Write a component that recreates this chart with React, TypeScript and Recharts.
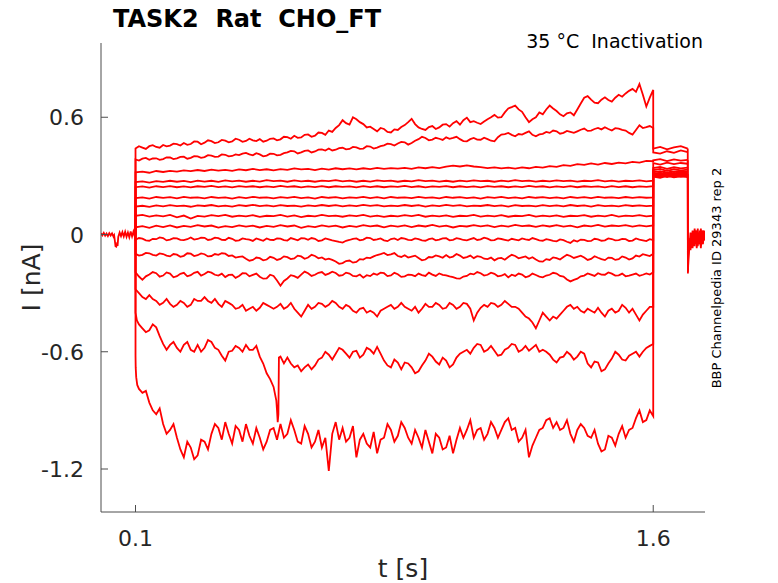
import React from "react";
import { LineChart, Line, XAxis, YAxis } from "recharts";

const RED = "#ff0000";
const INK = "#262626";
const AXIS = "#4d4d4d";
const FONT = "DejaVu Sans, sans-serif";

// holding level before the step
const T_PRE = [
  0, 0.004, 0.008, 0.012, 0.016, 0.02, 0.024, 0.028, 0.032, 0.036,
  0.038, 0.04, 0.042, 0.044, 0.046, 0.048, 0.05, 0.054, 0.058, 0.062,
  0.066, 0.07, 0.074, 0.078, 0.082, 0.086, 0.09, 0.094, 0.098, 0.1,
];
const I_PRE = [
  0.006, -0.004, 0.008, -0.006, 0.005, -0.008, 0.007, -0.005, 0.006, -0.01,
  -0.004, -0.03, -0.06, -0.062, -0.05, -0.058, -0.012, 0.01, -0.008, 0.012,
  -0.01, 0.014, -0.012, 0.01, -0.014, 0.016, -0.01, 0.015, -0.012, 0.0,
];

// step samples (s)
const T_STEP = [
  0.1, 0.12, 0.14, 0.16, 0.18, 0.2, 0.22, 0.24, 0.26, 0.28,
  0.3, 0.32, 0.34, 0.36, 0.38, 0.4, 0.42, 0.44, 0.46, 0.48,
  0.5, 0.52, 0.54, 0.56, 0.58, 0.6, 0.62, 0.64, 0.66, 0.68,
  0.7, 0.72, 0.74, 0.76, 0.78, 0.8, 0.82, 0.84, 0.86, 0.88,
  0.9, 0.92, 0.94, 0.96, 0.98, 1.0, 1.02, 1.04, 1.06, 1.08,
  1.1, 1.12, 1.14, 1.16, 1.18, 1.2, 1.22, 1.24, 1.26, 1.28,
  1.3, 1.32, 1.34, 1.36, 1.38, 1.4, 1.42, 1.44, 1.46, 1.48,
  1.5, 1.52, 1.54, 1.56, 1.58, 1.6,
];
// in-between samples used by the noisier sweeps
const T_MID = [
  0.11, 0.13, 0.15, 0.17, 0.19, 0.21, 0.23, 0.25, 0.27, 0.29,
  0.31, 0.33, 0.35, 0.37, 0.39, 0.41, 0.43, 0.45, 0.47, 0.49,
  0.51, 0.53, 0.55, 0.57, 0.59, 0.61, 0.63, 0.65, 0.67, 0.69,
  0.71, 0.73, 0.75, 0.77, 0.79, 0.81, 0.83, 0.85, 0.87, 0.89,
  0.91, 0.93, 0.95, 0.97, 0.99, 1.01, 1.03, 1.05, 1.07, 1.09,
  1.11, 1.13, 1.15, 1.17, 1.19, 1.21, 1.23, 1.25, 1.27, 1.29,
  1.31, 1.33, 1.35, 1.37, 1.39, 1.41, 1.43, 1.45, 1.47, 1.49,
  1.51, 1.53, 1.55, 1.57, 1.59,
];

const I1 = [
  0.44, 0.445, 0.452, 0.448, 0.458, 0.455, 0.462, 0.468, 0.463, 0.475,
  0.47, 0.478, 0.472, 0.48, 0.476, 0.485, 0.479, 0.482, 0.488, 0.48,
  0.492, 0.487, 0.498, 0.505, 0.497, 0.512, 0.506, 0.52, 0.532, 0.545,
  0.585, 0.562, 0.59, 0.565, 0.552, 0.528, 0.54, 0.522, 0.535, 0.56,
  0.592, 0.548, 0.535, 0.555, 0.548, 0.565, 0.57, 0.562, 0.598, 0.58,
  0.565, 0.59, 0.612, 0.6, 0.645, 0.66, 0.628, 0.575, 0.6, 0.615,
  0.66, 0.632, 0.605, 0.625, 0.64, 0.7, 0.69, 0.672, 0.702, 0.68,
  0.715, 0.722, 0.745, 0.77, 0.655, 0.74,
];
const M1 = [
  0.452, 0.438, 0.457, 0.444, 0.451, 0.465, 0.455, 0.459, 0.476, 0.462,
  0.482, 0.468, 0.484, 0.472, 0.49, 0.474, 0.49, 0.478, 0.475, 0.49,
  0.482, 0.5, 0.49, 0.495, 0.51, 0.5, 0.522, 0.51, 0.525, 0.56,
  0.57, 0.6, 0.575, 0.548, 0.54, 0.545, 0.525, 0.538, 0.55, 0.575,
  0.565, 0.54, 0.55, 0.54, 0.562, 0.552, 0.58, 0.585, 0.575, 0.572,
  0.578, 0.6, 0.598, 0.625, 0.652, 0.64, 0.6, 0.59, 0.625, 0.64,
  0.645, 0.615, 0.62, 0.61, 0.67, 0.708, 0.675, 0.69, 0.688, 0.7,
  0.705, 0.735, 0.73, 0.715, 0.7,
];
const I2 = [
  0.384, 0.388, 0.382, 0.39, 0.386, 0.394, 0.39, 0.398, 0.392, 0.4,
  0.396, 0.404, 0.399, 0.408, 0.402, 0.406, 0.418, 0.405, 0.41, 0.404,
  0.413, 0.408, 0.42, 0.426, 0.42, 0.43, 0.425, 0.436, 0.44, 0.434,
  0.444, 0.438, 0.446, 0.44, 0.45, 0.445, 0.456, 0.462, 0.466, 0.472,
  0.468, 0.488, 0.494, 0.486, 0.49, 0.497, 0.494, 0.488, 0.477, 0.494,
  0.485, 0.488, 0.477, 0.511, 0.52, 0.503, 0.511, 0.528, 0.503, 0.515,
  0.52, 0.528, 0.52, 0.525, 0.528, 0.542, 0.532, 0.545, 0.549, 0.532,
  0.542, 0.532, 0.511, 0.559, 0.549, 0.545,
];
const M2 = [
  0.378, 0.392, 0.389, 0.382, 0.395, 0.386, 0.397, 0.388, 0.401, 0.392,
  0.406, 0.397, 0.41, 0.4, 0.41, 0.414, 0.41, 0.416, 0.4, 0.414,
  0.405, 0.416, 0.428, 0.415, 0.428, 0.42, 0.434, 0.43, 0.43, 0.442,
  0.436, 0.448, 0.438, 0.452, 0.44, 0.452, 0.465, 0.455, 0.474, 0.46,
  0.48, 0.5, 0.482, 0.495, 0.484, 0.49, 0.5, 0.478, 0.488, 0.486,
  0.495, 0.48, 0.498, 0.514, 0.51, 0.514, 0.52, 0.51, 0.512, 0.525,
  0.532, 0.516, 0.53, 0.52, 0.536, 0.53, 0.54, 0.538, 0.54, 0.544,
  0.535, 0.52, 0.535, 0.545, 0.555,
];
const I3 = [
  0.318, 0.322, 0.316, 0.325, 0.32, 0.326, 0.322, 0.328, 0.324, 0.33,
  0.325, 0.332, 0.327, 0.331, 0.326, 0.333, 0.329, 0.336, 0.33, 0.334,
  0.328, 0.335, 0.331, 0.338, 0.333, 0.336, 0.33, 0.337, 0.332, 0.339,
  0.334, 0.338, 0.333, 0.339, 0.335, 0.341, 0.336, 0.34, 0.337, 0.341,
  0.336, 0.343, 0.339, 0.345, 0.34, 0.347, 0.352, 0.348, 0.354, 0.348,
  0.345, 0.34, 0.344, 0.338, 0.342, 0.337, 0.343, 0.339, 0.346, 0.342,
  0.35, 0.346, 0.355, 0.351, 0.36, 0.356, 0.364, 0.358, 0.366, 0.361,
  0.368, 0.364, 0.372, 0.368, 0.377, 0.375,
];
const I4 = [
  0.268, 0.272, 0.266, 0.273, 0.269, 0.275, 0.27, 0.274, 0.268, 0.276,
  0.271, 0.275, 0.269, 0.277, 0.272, 0.276, 0.27, 0.275, 0.271, 0.278,
  0.273, 0.276, 0.27, 0.277, 0.272, 0.275, 0.27, 0.276, 0.273, 0.278,
  0.272, 0.276, 0.27, 0.275, 0.271, 0.277, 0.273, 0.276, 0.27, 0.275,
  0.272, 0.278, 0.273, 0.276, 0.271, 0.275, 0.27, 0.276, 0.272, 0.277,
  0.273, 0.275, 0.27, 0.276, 0.272, 0.278, 0.273, 0.276, 0.271, 0.275,
  0.272, 0.277, 0.273, 0.276, 0.271, 0.275, 0.273, 0.278, 0.272, 0.276,
  0.271, 0.275, 0.273, 0.277, 0.272, 0.275,
];
const I5 = [
  0.242, 0.246, 0.24, 0.247, 0.243, 0.248, 0.242, 0.246, 0.241, 0.247,
  0.244, 0.249, 0.243, 0.246, 0.241, 0.248, 0.244, 0.247, 0.242, 0.246,
  0.243, 0.249, 0.244, 0.247, 0.241, 0.246, 0.243, 0.248, 0.242, 0.247,
  0.244, 0.246, 0.241, 0.248, 0.243, 0.247, 0.242, 0.246, 0.244, 0.249,
  0.243, 0.247, 0.241, 0.246, 0.244, 0.248, 0.242, 0.247, 0.243, 0.246,
  0.241, 0.248, 0.244, 0.247, 0.242, 0.246, 0.243, 0.249, 0.244, 0.247,
  0.241, 0.246, 0.243, 0.248, 0.242, 0.247, 0.244, 0.246, 0.241, 0.248,
  0.243, 0.247, 0.242, 0.246, 0.244, 0.247,
];
const I6 = [
  0.186, 0.19, 0.184, 0.192, 0.187, 0.191, 0.185, 0.193, 0.188, 0.19,
  0.185, 0.192, 0.187, 0.19, 0.184, 0.191, 0.186, 0.193, 0.188, 0.19,
  0.185, 0.191, 0.187, 0.193, 0.186, 0.19, 0.184, 0.192, 0.188, 0.191,
  0.185, 0.19, 0.187, 0.193, 0.186, 0.191, 0.185, 0.192, 0.188, 0.19,
  0.186, 0.193, 0.187, 0.19, 0.185, 0.192, 0.188, 0.191, 0.186, 0.19,
  0.184, 0.191, 0.187, 0.193, 0.186, 0.19, 0.185, 0.192, 0.188, 0.191,
  0.186, 0.19, 0.185, 0.192, 0.187, 0.191, 0.186, 0.193, 0.188, 0.19,
  0.186, 0.192, 0.187, 0.191, 0.188, 0.19,
];
const I7 = [
  0.143, 0.147, 0.141, 0.149, 0.144, 0.15, 0.145, 0.148, 0.142, 0.149,
  0.146, 0.151, 0.144, 0.148, 0.143, 0.15, 0.146, 0.152, 0.145, 0.149,
  0.144, 0.15, 0.146, 0.148, 0.143, 0.149, 0.145, 0.151, 0.146, 0.15,
  0.144, 0.149, 0.145, 0.152, 0.147, 0.15, 0.144, 0.148, 0.145, 0.151,
  0.146, 0.15, 0.143, 0.149, 0.145, 0.152, 0.147, 0.15, 0.144, 0.148,
  0.146, 0.151, 0.145, 0.149, 0.143, 0.15, 0.146, 0.148, 0.144, 0.15,
  0.145, 0.149, 0.144, 0.151, 0.146, 0.149, 0.143, 0.15, 0.145, 0.148,
  0.144, 0.15, 0.146, 0.149, 0.145, 0.148,
];
const I8 = [
  0.096, 0.1, 0.092, 0.098, 0.093, 0.1, 0.088, 0.097, 0.082, 0.095,
  0.092, 0.099, 0.094, 0.1, 0.091, 0.097, 0.093, 0.099, 0.09, 0.096,
  0.094, 0.1, 0.092, 0.098, 0.089, 0.096, 0.093, 0.1, 0.094, 0.097,
  0.091, 0.098, 0.094, 0.1, 0.092, 0.097, 0.09, 0.096, 0.093, 0.099,
  0.094, 0.1, 0.091, 0.097, 0.093, 0.098, 0.09, 0.096, 0.094, 0.1,
  0.092, 0.097, 0.093, 0.099, 0.091, 0.096, 0.094, 0.1, 0.092, 0.097,
  0.093, 0.098, 0.09, 0.096, 0.094, 0.099, 0.091, 0.097, 0.093, 0.1,
  0.092, 0.097, 0.094, 0.099, 0.093, 0.096,
];
const I9 = [
  0.037, 0.043, 0.034, 0.045, 0.038, 0.047, 0.036, 0.044, 0.039, 0.048,
  0.041, 0.046, 0.035, 0.043, 0.038, 0.047, 0.04, 0.045, 0.036, 0.044,
  0.039, 0.048, 0.041, 0.046, 0.034, 0.043, 0.038, 0.047, 0.04, 0.045,
  0.036, 0.044, 0.039, 0.048, 0.042, 0.046, 0.037, 0.045, 0.04, 0.047,
  0.038, 0.046, 0.041, 0.049, 0.04, 0.045, 0.036, 0.044, 0.041, 0.048,
  0.042, 0.047, 0.038, 0.045, 0.04, 0.049, 0.043, 0.046, 0.039, 0.047,
  0.041, 0.048, 0.04, 0.045, 0.037, 0.046, 0.042, 0.049, 0.04, 0.046,
  0.043, 0.048, 0.04, 0.047, 0.042, 0.046,
];
const I10 = [
  -0.027, -0.021, -0.032, -0.024, -0.018, -0.026, -0.02, -0.029, -0.015, -0.023,
  -0.017, -0.025, -0.019, -0.028, -0.022, -0.03, -0.024, -0.033, -0.026, -0.02,
  -0.028, -0.021, -0.031, -0.024, -0.019, -0.027, -0.022, -0.03, -0.025, -0.034,
  -0.041, -0.028, -0.02, -0.026, -0.018, -0.025, -0.03, -0.023, -0.028, -0.021,
  -0.029, -0.024, -0.032, -0.02, -0.026, -0.019, -0.027, -0.022, -0.03, -0.018,
  -0.025, -0.021, -0.029, -0.023, -0.031, -0.026, -0.02, -0.028, -0.024, -0.032,
  -0.027, -0.035, -0.029, -0.043, -0.036, -0.028, -0.033, -0.025, -0.03, -0.023,
  -0.029, -0.024, -0.031, -0.026, -0.034, -0.029,
];
const M10 = [
  -0.018, -0.03, -0.022, -0.015, -0.03, -0.019, -0.027, -0.024, -0.026, -0.016,
  -0.028, -0.016, -0.027, -0.017, -0.032, -0.02, -0.026, -0.02, -0.032, -0.027,
  -0.02, -0.029, -0.018, -0.03, -0.02, -0.018, -0.033, -0.02, -0.03, -0.038,
  -0.032, -0.022, -0.03, -0.016, -0.028, -0.02, -0.034, -0.02, -0.018, -0.027,
  -0.02, -0.03, -0.024, -0.03, -0.02, -0.03, -0.019, -0.028, -0.024, -0.028,
  -0.016, -0.03, -0.02, -0.027, -0.022, -0.03, -0.025, -0.018, -0.03, -0.024,
  -0.033, -0.025, -0.037, -0.03, -0.026, -0.034, -0.022, -0.032, -0.02, -0.03,
  -0.022, -0.033, -0.02, -0.03, -0.024,
];
const I11 = [
  -0.099, -0.104, -0.096, -0.108, -0.1, -0.112, -0.103, -0.109, -0.098, -0.106,
  -0.101, -0.11, -0.104, -0.098, -0.107, -0.115, -0.124, -0.13, -0.121, -0.128,
  -0.119, -0.125, -0.116, -0.122, -0.112, -0.118, -0.11, -0.117, -0.124, -0.138,
  -0.146, -0.133, -0.14, -0.128, -0.121, -0.105, -0.094, -0.102, -0.11, -0.106,
  -0.113, -0.12, -0.128, -0.117, -0.112, -0.105, -0.113, -0.108, -0.116, -0.121,
  -0.114, -0.126, -0.132, -0.12, -0.115, -0.11, -0.117, -0.124, -0.128, -0.139,
  -0.13, -0.121, -0.115, -0.11, -0.114, -0.118, -0.125, -0.119, -0.131, -0.12,
  -0.126, -0.118, -0.122, -0.113, -0.105, -0.098,
];
const M11 = [
  -0.108, -0.094, -0.104, -0.097, -0.108, -0.1, -0.114, -0.096, -0.11, -0.097,
  -0.112, -0.1, -0.096, -0.11, -0.118, -0.112, -0.134, -0.118, -0.132, -0.114,
  -0.13, -0.112, -0.126, -0.108, -0.124, -0.104, -0.122, -0.128, -0.13, -0.15,
  -0.136, -0.144, -0.126, -0.118, -0.112, -0.1, -0.105, -0.095, -0.115, -0.118,
  -0.108, -0.132, -0.115, -0.107, -0.119, -0.118, -0.1, -0.12, -0.108, -0.111,
  -0.124, -0.118, -0.122, -0.129, -0.104, -0.122, -0.112, -0.116, -0.138, -0.126,
  -0.117, -0.128, -0.104, -0.12, -0.108, -0.13, -0.111, -0.126, -0.118, -0.13,
  -0.112, -0.128, -0.108, -0.101, -0.11,
];
const I12 = [
  -0.193, -0.232, -0.205, -0.198, -0.21, -0.2, -0.213, -0.196, -0.208, -0.191,
  -0.202, -0.195, -0.21, -0.218, -0.205, -0.212, -0.199, -0.207, -0.216, -0.224,
  -0.212, -0.262, -0.225, -0.213, -0.205, -0.198, -0.206, -0.192, -0.2, -0.197,
  -0.208, -0.2, -0.214, -0.221, -0.213, -0.206, -0.198, -0.209, -0.203, -0.214,
  -0.207, -0.2, -0.212, -0.205, -0.199, -0.209, -0.218, -0.226, -0.212, -0.204,
  -0.198, -0.206, -0.201, -0.211, -0.219, -0.212, -0.205, -0.213, -0.207, -0.219,
  -0.206, -0.2, -0.215, -0.24, -0.226, -0.21, -0.205, -0.198, -0.206, -0.2,
  -0.209, -0.214, -0.205, -0.211, -0.199, -0.193,
];
const M12 = [
  -0.215, -0.214, -0.192, -0.216, -0.194, -0.219, -0.201, -0.214, -0.196, -0.21,
  -0.19, -0.206, -0.2, -0.207, -0.222, -0.198, -0.214, -0.2, -0.226, -0.206,
  -0.235, -0.238, -0.208, -0.222, -0.19, -0.212, -0.196, -0.207, -0.19, -0.211,
  -0.195, -0.212, -0.205, -0.208, -0.2, -0.195, -0.213, -0.196, -0.217, -0.205,
  -0.213, -0.208, -0.195, -0.212, -0.206, -0.214, -0.224, -0.215, -0.2, -0.192,
  -0.21, -0.195, -0.214, -0.203, -0.206, -0.2, -0.219, -0.2, -0.215, -0.21,
  -0.196, -0.212, -0.23, -0.232, -0.214, -0.199, -0.212, -0.205, -0.194, -0.21,
  -0.2, -0.21, -0.2, -0.206, -0.205,
];
const I13 = [
  -0.28, -0.32, -0.31, -0.34, -0.35, -0.355, -0.36, -0.35, -0.36, -0.34,
  -0.32, -0.35, -0.355, -0.34, -0.36, -0.375, -0.39, -0.37, -0.375, -0.36,
  -0.38, -0.355, -0.37, -0.38, -0.42, -0.36, -0.37, -0.355, -0.36, -0.35,
  -0.38, -0.37, -0.4, -0.375, -0.39, -0.42, -0.38, -0.36, -0.37, -0.37,
  -0.39, -0.4, -0.355, -0.37, -0.36, -0.375, -0.36, -0.37, -0.355, -0.44,
  -0.375, -0.37, -0.355, -0.36, -0.355, -0.37, -0.4, -0.43, -0.48, -0.4,
  -0.44, -0.43, -0.39, -0.36, -0.37, -0.4, -0.39, -0.375, -0.42, -0.38,
  -0.39, -0.375, -0.38, -0.44, -0.39, -0.37,
];
const M13 = [
  -0.3, -0.33, -0.33, -0.36, -0.33, -0.37, -0.34, -0.37, -0.33, -0.34,
  -0.34, -0.33, -0.37, -0.35, -0.38, -0.36, -0.38, -0.39, -0.35, -0.37,
  -0.37, -0.38, -0.35, -0.4, -0.39, -0.38, -0.35, -0.37, -0.34, -0.37,
  -0.36, -0.39, -0.38, -0.4, -0.4, -0.39, -0.37, -0.38, -0.35, -0.38,
  -0.37, -0.38, -0.37, -0.35, -0.38, -0.35, -0.38, -0.35, -0.38, -0.4,
  -0.36, -0.35, -0.37, -0.34, -0.37, -0.38, -0.42, -0.45, -0.44, -0.42,
  -0.42, -0.41, -0.37, -0.38, -0.39, -0.38, -0.4, -0.4, -0.39, -0.4,
  -0.36, -0.4, -0.41, -0.41, -0.37,
];
const I14 = [
  -0.4, -0.48, -0.49, -0.475, -0.56, -0.565, -0.58, -0.565, -0.59, -0.565,
  -0.58, -0.55, -0.59, -0.645, -0.595, -0.58, -0.565, -0.59, -0.625, -0.71,
  -0.78, -0.625, -0.63, -0.68, -0.7, -0.665, -0.67, -0.63, -0.615, -0.61,
  -0.59, -0.63, -0.595, -0.615, -0.59, -0.575, -0.645, -0.68, -0.655, -0.655,
  -0.68, -0.7, -0.645, -0.625, -0.665, -0.645, -0.665, -0.61, -0.59, -0.58,
  -0.565, -0.59, -0.595, -0.615, -0.58, -0.565, -0.59, -0.595, -0.565, -0.59,
  -0.615, -0.655, -0.625, -0.615, -0.625, -0.61, -0.68, -0.655, -0.69, -0.635,
  -0.615, -0.645, -0.61, -0.625, -0.58, -0.56,
];
const M14 = [
  -0.46, -0.5, -0.46, -0.52, -0.59, -0.55, -0.6, -0.55, -0.6, -0.6,
  -0.54, -0.58, -0.62, -0.6, -0.57, -0.6, -0.59, -0.57, -0.66, -0.74,
  -0.9, -0.66, -0.66, -0.67, -0.68, -0.69, -0.64, -0.6, -0.64, -0.58,
  -0.61, -0.6, -0.63, -0.58, -0.61, -0.61, -0.67, -0.64, -0.69, -0.66,
  -0.71, -0.67, -0.61, -0.65, -0.63, -0.68, -0.63, -0.6, -0.61, -0.56,
  -0.6, -0.57, -0.62, -0.59, -0.56, -0.6, -0.57, -0.58, -0.6, -0.6,
  -0.64, -0.63, -0.6, -0.64, -0.6, -0.66, -0.65, -0.7, -0.66, -0.6,
  -0.64, -0.62, -0.6, -0.6, -0.57,
];
const I15 = [
  -0.62, -0.81, -0.86, -0.92, -0.97, -1.0, -1.04, -1.14, -1.09, -1.13,
  -1.06, -1.02, -0.99, -0.96, -1.07, -1.0, -0.97, -1.07, -1.04, -1.06,
  -0.99, -0.97, -1.02, -1.0, -1.07, -1.02, -1.06, -1.09, -1.21, -0.96,
  -0.99, -1.04, -1.14, -1.02, -1.09, -1.12, -1.04, -1.0, -1.03, -0.99,
  -1.07, -1.04, -1.0, -1.12, -1.04, -1.09, -1.12, -0.99, -1.0, -1.04,
  -0.99, -1.02, -0.99, -1.0, -0.94, -0.99, -1.04, -1.14, -1.04, -0.99,
  -0.94, -0.96, -0.99, -1.02, -1.0, -0.99, -1.04, -1.07, -1.1, -1.04,
  -1.02, -1.04, -0.99, -0.9, -0.95, -0.93,
];
const M15 = [
  -0.79, -0.8, -0.9, -0.89, -1.02, -0.97, -1.1, -1.06, -1.15, -1.05,
  -1.1, -0.97, -1.05, -1.02, -0.98, -1.06, -1.03, -0.99, -1.1, -1.0,
  -1.05, -1.04, -0.95, -1.06, -0.98, -1.09, -1.0, -1.04, -1.02, -1.05,
  -1.06, -0.98, -1.05, -1.07, -1.01, -1.05, -0.97, -1.06, -0.96, -1.04,
  -1.0, -1.09, -1.06, -1.02, -1.1, -1.03, -1.05, -1.04, -0.95, -1.0,
  -1.05, -0.96, -1.04, -0.96, -1.0, -1.06, -1.0, -1.08, -1.0, -0.95,
  -0.99, -1.0, -0.95, -1.06, -0.97, -1.03, -1.0, -1.11, -1.03, -1.08,
  -0.98, -1.0, -0.94, -0.96, -0.9,
];

// off-grid samples: fast onset and the brief dip of the two largest inward sweeps
const EXTRA14 = [
  [0.104, -0.44],
  [0.508, -0.85], [0.512, -0.96], [0.514, -0.92], [0.5155, -0.63],
];
const EXTRA15 = [
  [0.1005, -0.68], [0.102, -0.73], [0.105, -0.77], [0.115, -0.8],
];

// tail after the step
const T_TAIL = [1.6, 1.62, 1.64, 1.66, 1.68, 1.7];
const TAILS = [
  [0.44, 0.448, 0.436, 0.446, 0.452, 0.44],
  [0.42, 0.414, 0.426, 0.418, 0.43, 0.422],
  [0.38, 0.386, 0.376, 0.384, 0.378, 0.382],
  [0.365, 0.358, 0.368, 0.36, 0.366, 0.362],
  [0.34, 0.346, 0.336, 0.344, 0.338, 0.342],
  [0.33, 0.336, 0.326, 0.334, 0.328, 0.332],
  [0.325, 0.318, 0.328, 0.32, 0.326, 0.322],
  [0.318, 0.324, 0.314, 0.322, 0.316, 0.32],
  [0.312, 0.306, 0.316, 0.308, 0.314, 0.31],
  [0.308, 0.314, 0.304, 0.312, 0.306, 0.31],
  [0.305, 0.299, 0.309, 0.301, 0.307, 0.303],
  [0.302, 0.308, 0.298, 0.306, 0.3, 0.304],
  [0.3, 0.294, 0.304, 0.296, 0.302, 0.298],
  [0.298, 0.304, 0.294, 0.302, 0.296, 0.3],
  [0.296, 0.29, 0.3, 0.292, 0.298, 0.294],
];

// return to holding
const T_POST = [
  1.7, 1.7005, 1.702, 1.705, 1.708, 1.711, 1.714, 1.717, 1.72, 1.723,
  1.726, 1.729, 1.732, 1.735, 1.738, 1.741, 1.744, 1.747, 1.75,
];
const POST = [
  [0.44, -0.19, -0.11, -0.06, 0.01, -0.05, 0.02, -0.04, 0.03, -0.03, 0.02, -0.06, 0.01, -0.04, 0.03, -0.05, 0.02, -0.03, 0.0],
  [0.38, -0.16, -0.08, -0.02, -0.07, 0.0, -0.06, 0.01, -0.05, 0.02, -0.07, 0.0, -0.05, 0.02, -0.06, 0.01, -0.04, 0.02, -0.02],
  [0.31, -0.2, -0.12, -0.04, -0.08, -0.01, -0.07, 0.0, -0.06, 0.01, -0.04, 0.03, -0.05, 0.0, -0.07, 0.02, -0.05, 0.01, -0.03],
];

const X_TICKS = [0.1, 1.6];
const Y_TICKS = [-1.2, -0.6, 0, 0.6];

const STEPS = [I1, I2, I3, I4, I5, I6, I7, I8, I9, I10, I11, I12, I13, I14, I15];
const MIDS: (number[] | null)[] = [M1, M2, null, null, null, null, null, null, null, M10, M11, M12, M13, M14, M15];
const EXTRAS: number[][][] = [[], [], [], [], [], [], [], [], [], [], [], [], [], EXTRA14, EXTRA15];

function sweep(k: number) {
  const pts = T_STEP.map((t, i) => ({ t, v: STEPS[k][i] }));
  const mid = MIDS[k];
  if (mid) T_MID.forEach((t, i) => pts.push({ t, v: mid[i] }));
  EXTRAS[k].forEach(([t, v]) => pts.push({ t, v }));
  pts.sort((a, b) => a.t - b.t);
  return [{ t: 0.1, v: 0 }, ...pts, ...T_TAIL.map((t, i) => ({ t, v: TAILS[k][i] }))];
}

const sweeps = STEPS.map((_, k) => sweep(k));
const pre = T_PRE.map((t, i) => ({ t, v: I_PRE[i] }));
const post = POST.map((row) => T_POST.map((t, i) => ({ t, v: row[i] })));

const XTick = (props: any) => {
  const { x, y, payload } = props;
  return (
    <g>
      <line x1={x} x2={x} y1={y} y2={y - 7} stroke={AXIS} />
      <text x={x} y={y + 34} textAnchor="middle" fontSize={22} fill={INK} fontFamily={FONT}>
        {payload.value}
      </text>
    </g>
  );
};

const YTick = (props: any) => {
  const { x, y, payload } = props;
  return (
    <g>
      <line x1={x} x2={x + 7} y1={y} y2={y} stroke={AXIS} />
      <text x={x - 17} y={y + 8} textAnchor="end" fontSize={22} fill={INK} fontFamily={FONT}>
        {String(payload.value)}
      </text>
    </g>
  );
};

export default function App() {
  const line = (data: any[], key: string) => (
    <Line
      key={key}
      data={data}
      dataKey="v"
      type="linear"
      stroke={RED}
      strokeWidth={1.8}
      dot={false}
      activeDot={false}
      isAnimationActive={false}
    />
  );

  return (
    <div style={{ position: "absolute", left: 0, top: 0, width: 778, height: 583, background: "#fff", fontFamily: FONT }}>
      <LineChart width={778} height={583} margin={{ top: 43, right: 73, bottom: 0, left: 0 }}>
        <XAxis
          type="number"
          dataKey="t"
          domain={[0, 1.75]}
          ticks={X_TICKS}
          interval={0}
          height={71}
          allowDataOverflow
          tickSize={0}
          tickMargin={0}
          tickLine={false}
          axisLine={{ stroke: AXIS }}
          tick={<XTick />}
          label={{
            content: (p: any) => {
              const vb = p.viewBox || { x: 101, y: 512, width: 604 };
              return (
                <text x={vb.x + vb.width / 2} y={vb.y + 65} textAnchor="middle" fontSize={25} fill={INK} fontFamily={FONT}>
                  t [s]
                </text>
              );
            },
          }}
        />
        <YAxis
          type="number"
          domain={[-1.42, 0.98]}
          ticks={Y_TICKS}
          interval={0}
          width={101}
          allowDataOverflow
          tickSize={0}
          tickMargin={0}
          tickLine={false}
          axisLine={{ stroke: AXIS }}
          tick={<YTick />}
          label={{
            content: (p: any) => {
              const vb = p.viewBox || { x: 0, y: 43, height: 469 };
              const cy = vb.y + vb.height / 2;
              return (
                <text x={40} y={cy} transform={`rotate(-90, 40, ${cy})`} textAnchor="middle" fontSize={25} fill={INK} fontFamily={FONT}>
                  I [nA]
                </text>
              );
            },
          }}
        />
        {line(pre, "pre")}
        {sweeps.map((d, k) => line(d, `s${k}`))}
        {post.map((d, k) => line(d, `p${k}`))}
      </LineChart>
      <svg width={778} height={583} style={{ position: "absolute", left: 0, top: 0, pointerEvents: "none" }}>
        <text x={113} y={27} fontSize={24} fontWeight="bold" fill="#000" fontFamily={FONT} style={{ whiteSpace: "pre" }}>
          TASK2  Rat  CHO_FT
        </text>
        <text x={703} y={48} textAnchor="end" fontSize={19} fill="#000" fontFamily={FONT} style={{ whiteSpace: "pre" }}>
          35 °C  Inactivation
        </text>
        <text x={721} y={278} transform="rotate(-90, 721, 278)" textAnchor="middle" fontSize={13} fill="#000" fontFamily={FONT}>
          BBP Channelpedia ID 29343 rep 2
        </text>
      </svg>
    </div>
  );
}
